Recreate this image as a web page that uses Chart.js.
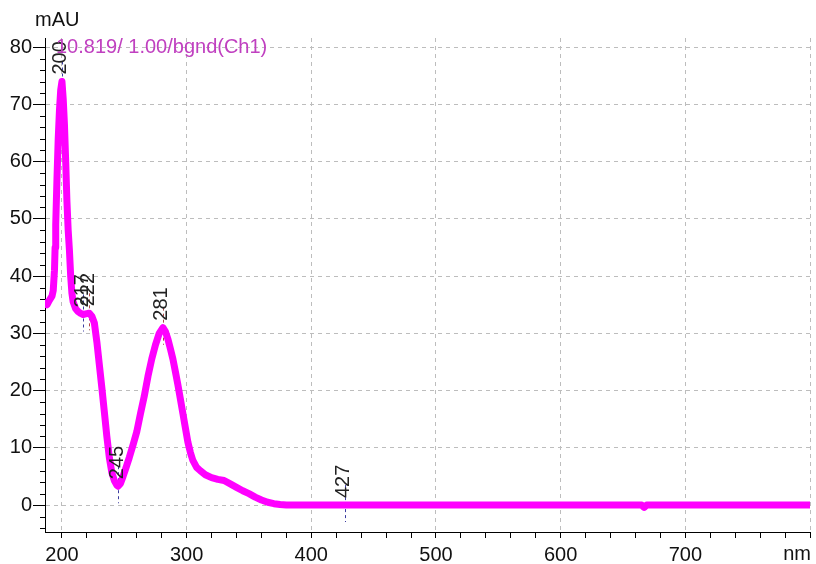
<!DOCTYPE html>
<html>
<head>
<meta charset="utf-8">
<script src="https://cdn.jsdelivr.net/npm/chart.js@4"></script>
<style>
  html, body { margin: 0; padding: 0; background: #fff; }
  #spectrum { display: block; }
</style>
</head>
<body>
<canvas id="spectrum" width="816" height="564"></canvas>
<script>
// spectrum (nm / mAU)
const wavelengths = [
  186.5, 188, 190, 192, 193, 194, 194.5, 195, 196, 197, 198, 199, 200,
  201, 202, 203, 204, 205, 206, 207, 208, 209, 211, 213, 215, 217, 219, 221, 222,
  224, 226, 228, 230, 232, 234, 236, 238, 240, 242, 244, 245,
  247, 249, 251, 254, 257, 260, 263, 266, 269, 272, 275, 278, 281,
  283, 285, 287, 289, 291, 293, 295, 297, 299, 301, 303, 305, 308, 311,
  315, 320, 325, 330, 335, 340, 345, 350, 355, 360, 365, 370, 375, 380,
  400, 450, 500, 550, 600, 650, 665, 667, 669, 700, 750, 800
];
const absorbance = [
  35.3, 35.0, 35.8, 36.5, 37.5, 41, 45, 49, 57, 64, 69, 72.5, 74,
  71, 66.5, 60, 53, 48, 44.5, 40, 37, 35.5, 34.3, 33.8, 33.5, 33.3, 33.4, 33.5, 33.5,
  33, 31.8, 28.5, 24.5, 20.5, 16.3, 12, 8.3, 5.7, 4.3, 3.5, 3.3,
  3.8, 5, 6.3, 8.3, 10.5, 12.8, 16, 19, 22.5, 25.5, 28, 30, 31,
  30.3, 29, 27.3, 25.5, 23.3, 21, 18.5, 16, 13.5, 11, 9.2, 7.8, 6.6, 6.0,
  5.3, 4.8, 4.5, 4.3, 3.7, 3.1, 2.5, 2.0, 1.4, 0.9, 0.5, 0.25, 0.1, 0,
  0, 0, 0, 0, 0, 0, 0, -0.4, 0, 0, 0, 0
];

const xTickLabels = [200, 300, 400, 500, 600, 700];
const yTickLabels = [0, 10, 20, 30, 40, 50, 60, 70, 80];

const peakWavelengths = [200, 217, 222, 245, 281, 427];
const peakValues = [74, 33.3, 33.5, 3.3, 31, 0];

const traceTitle = "10.819/ 1.00/bgnd(Ch1)";
const yUnit = "mAU";
const xUnit = "nm";

const FONT = '20px "Liberation Sans", Arial, sans-serif';
const markerColors = ["#3c3ca0", "#3c3ca0", "#b04848", "#3c3ca0", "#b04848", "#3c3ca0"];

const isMajorX = (v) => xTickLabels.includes(v);
const isMajorY = (v) => yTickLabels.includes(v);

const annotations = {
  id: "annotations",
  beforeDatasetsDraw(chart) {
    const { ctx, scales: { x, y } } = chart;
    ctx.save();
    // short minor ticks on the y axis
    ctx.strokeStyle = "#000";
    ctx.lineWidth = 1;
    ctx.beginPath();
    for (let v = -4; v <= 80; v += 2) {
      if (isMajorY(v)) continue;
      const py = Math.round(y.getPixelForValue(v)) + 0.5;
      ctx.moveTo(x.left - 5, py);
      ctx.lineTo(x.left, py);
    }
    ctx.stroke();

    // dashed drop lines under the peak labels
    ctx.setLineDash([3, 3]);
    peakWavelengths.forEach((w, i) => {
      const px = Math.round(x.getPixelForValue(w)) + 0.5;
      const py = y.getPixelForValue(peakValues[i]);
      ctx.strokeStyle = markerColors[i];
      ctx.beginPath();
      ctx.moveTo(px, py - 20);
      ctx.lineTo(px, py + 17);
      ctx.stroke();
    });
    ctx.restore();
  },
  afterDatasetsDraw(chart) {
    const { ctx, scales: { x, y } } = chart;
    ctx.save();
    ctx.font = FONT;

    // peak wavelength labels, written upwards
    ctx.fillStyle = "#222";
    ctx.textAlign = "left";
    ctx.textBaseline = "middle";
    peakWavelengths.forEach((w, i) => {
      const px = x.getPixelForValue(w) - 1;
      const py = y.getPixelForValue(peakValues[i]) - 7;
      ctx.save();
      ctx.translate(px, py);
      ctx.rotate(-Math.PI / 2);
      ctx.fillText(String(w), 0, 0);
      ctx.restore();
    });

    // trace title
    ctx.textBaseline = "alphabetic";
    ctx.fillStyle = "#c040c0";
    ctx.fillText(traceTitle, 56, 53);

    // units
    ctx.fillStyle = "#111";
    ctx.fillText(yUnit, 35, 26);
    ctx.textAlign = "right";
    ctx.fillText(xUnit, x.right + 1, 560);
    ctx.restore();
  }
};

const ctx = document.getElementById("spectrum").getContext("2d");
new Chart(ctx, {
  type: "line",
  data: {
    datasets: [{
      data: wavelengths.map((w, i) => ({ x: w, y: absorbance[i] })),
      borderColor: "#ff00ff",
      borderWidth: 7,
      pointRadius: 0,
      tension: 0,
      borderJoinStyle: "round",
      borderCapStyle: "round"
    }]
  },
  options: {
    responsive: false,
    animation: false,
    layout: { padding: { top: 38, right: 6, left: 0, bottom: 0 } },
    plugins: {
      legend: { display: false },
      tooltip: { enabled: false }
    },
    scales: {
      x: {
        type: "linear",
        min: 186.4,
        max: 800,
        afterBuildTicks: (axis) => {
          const ticks = [];
          for (let v = 200; v <= 800; v += 20) ticks.push({ value: v });
          axis.ticks = ticks;
        },
        afterFit: (axis) => { axis.height = 32; },
        ticks: {
          autoSkip: false,
          maxRotation: 0,
          padding: 5,
          color: "#111",
          font: { family: '"Liberation Sans", Arial, sans-serif', size: 20 },
          callback: (v) => (isMajorX(v) ? String(v) : "")
        },
        grid: {
          color: (c) => (c.tick && c.tick.value % 100 === 0 ? "#bdbdbd" : "rgba(0,0,0,0)"),
          tickColor: "#000",
          tickLength: 6,
          tickBorderDash: [],
          lineWidth: 1
        },
        border: { display: true, color: "#000", width: 1, dash: [4, 4] }
      },
      y: {
        min: -4.7,
        max: 81.6,
        afterBuildTicks: (axis) => {
          axis.ticks = yTickLabels.map((v) => ({ value: v }));
        },
        afterFit: (axis) => { axis.width = 45; },
        ticks: {
          autoSkip: false,
          padding: 1,
          color: "#111",
          font: { family: '"Liberation Sans", Arial, sans-serif', size: 20 },
          callback: (v) => String(v)
        },
        grid: {
          color: "#bdbdbd",
          tickColor: "#000",
          tickLength: 12,
          tickBorderDash: [],
          lineWidth: 1
        },
        border: { display: true, color: "#000", width: 1, dash: [4, 4] }
      }
    }
  },
  plugins: [annotations]
});
</script>
</body>
</html>
